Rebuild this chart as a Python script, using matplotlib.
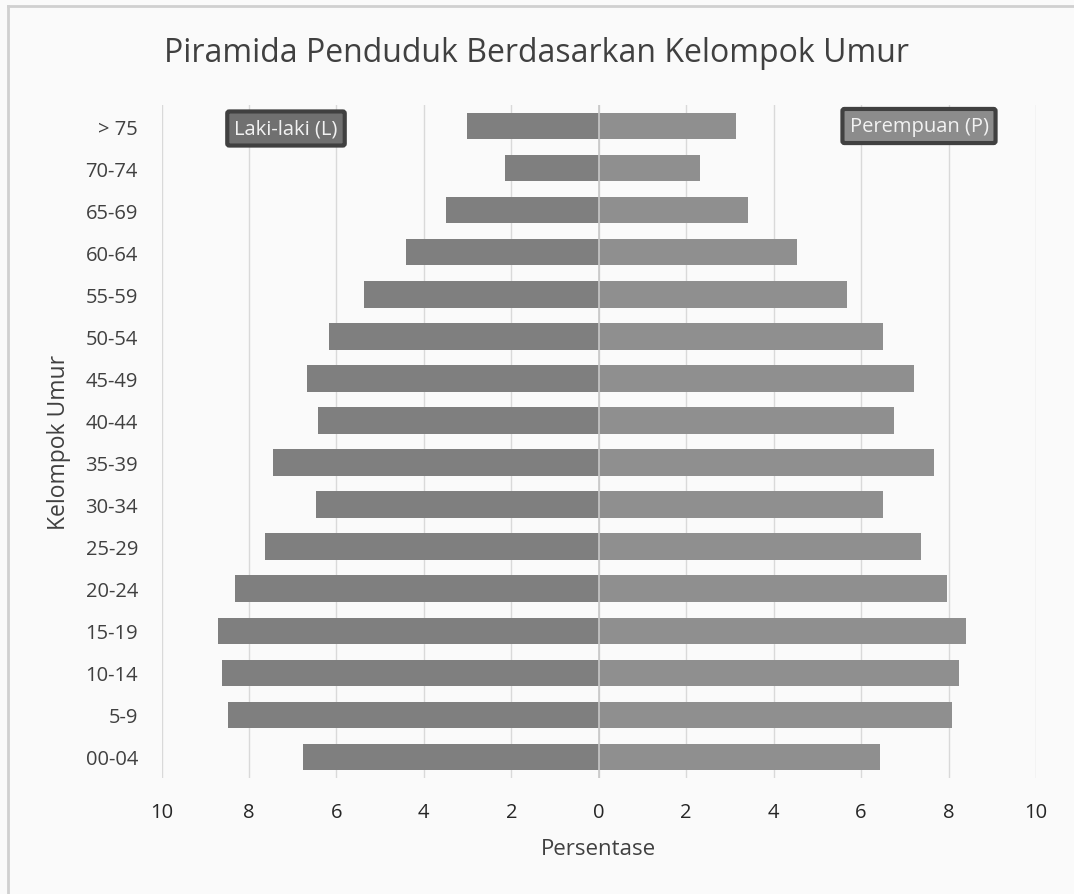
import matplotlib
matplotlib.use("Agg")
import matplotlib.pyplot as plt
from matplotlib.lines import Line2D

categories = ["00-04", "5-9", "10-14", "15-19", "20-24", "25-29", "30-34", "35-39",
              "40-44", "45-49", "50-54", "55-59", "60-64", "65-69", "70-74", "> 75"]
laki = [6.76, 8.49, 8.61, 8.70, 8.32, 7.64, 6.47, 7.46,
        6.41, 6.67, 6.17, 5.38, 4.41, 3.50, 2.15, 3.01]
perempuan = [6.44, 8.07, 8.25, 8.40, 7.96, 7.38, 6.49, 7.67,
             6.76, 7.22, 6.49, 5.67, 4.53, 3.41, 2.32, 3.15]
xticks = [-10, -8, -6, -4, -2, 0, 2, 4, 6, 8, 10]
xtick_labels = ["10", "8", "6", "4", "2", "0", "2", "4", "6", "8", "10"]

plt.rcParams['font.family'] = ['Open Sans', 'DejaVu Sans']
txt = "#404040"
bg = "#fafafa"

fig = plt.figure(figsize=(10.74, 8.95), dpi=100, facecolor=bg)
ax = fig.add_axes([0.1504, 0.1296, 0.8142, 0.752])
ax.set_facecolor(bg)

y = list(range(len(categories)))
ax.barh(y, [-v for v in laki], height=0.63, color="#7f7f7f", zorder=3)
ax.barh(y, perempuan, height=0.63, color="#8f8f8f", zorder=3)

ax.set_xlim(-10, 10)
ax.set_ylim(-0.5, len(categories) - 0.5)
ax.set_xticks(xticks)
ax.set_xticklabels(xtick_labels, fontsize=14.5, color="#262626")
ax.set_yticks(y)
ax.set_yticklabels(categories, fontsize=14.5, color=txt)
ax.tick_params(axis="both", length=0)
ax.tick_params(axis="x", pad=17)
ax.tick_params(axis="y", pad=17)
for s in ax.spines.values():
    s.set_visible(False)
ax.grid(axis="x", color="#d9d9d9", lw=1, zorder=0)
ax.axvline(0, color="#c8c8c8", lw=1.2, zorder=4)

ax.set_xlabel("Persentase", fontsize=16, color=txt, labelpad=12)
ax.set_ylabel("Kelompok Umur", fontsize=16.5, color=txt, labelpad=10)

fig.text(0.5, 1 - 54 / 895, "Piramida Penduduk Berdasarkan Kelompok Umur", ha="center", va="center",
         fontsize=23, color=txt)

fig.text(286 / 1074, 1 - 129.5 / 895, "Laki-laki (L)", ha="center", va="center",
         fontsize=14.5, color="#f2f2f2",
         bbox=dict(boxstyle="round,pad=0.35,rounding_size=0.1", fc="#707070", ec="#404040", lw=3))
fig.text(919 / 1074, 1 - 127 / 895, "Perempuan (P)", ha="center", va="center",
         fontsize=14.5, color="#f2f2f2",
         bbox=dict(boxstyle="round,pad=0.35,rounding_size=0.1", fc="#8c8c8c", ec="#404040", lw=3))

fig.add_artist(Line2D([8 / 1074, 1], [1 - 7 / 895, 1 - 7 / 895], color="#d0d0d0", lw=2, transform=fig.transFigure))
fig.add_artist(Line2D([8 / 1074, 8 / 1074], [0, 1 - 7 / 895], color="#d0d0d0", lw=2, transform=fig.transFigure))

fig.savefig("out.png", dpi=100, facecolor=bg)
